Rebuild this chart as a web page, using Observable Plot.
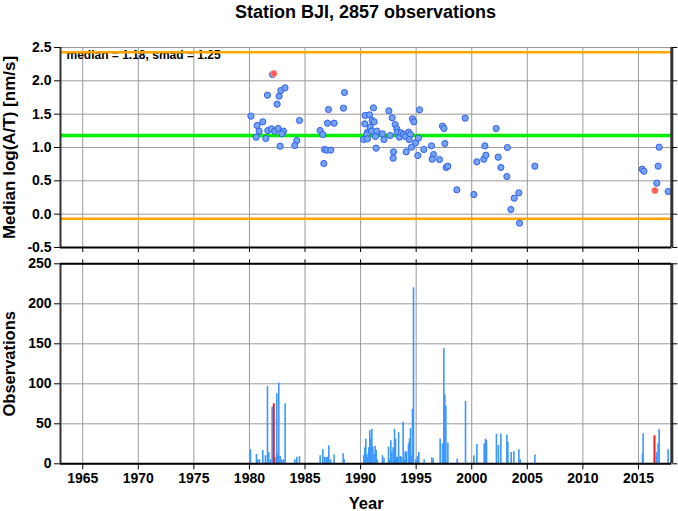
<!DOCTYPE html>
<html>
<head>
<meta charset="utf-8">
<script src="https://cdn.jsdelivr.net/npm/d3@7"></script>
<script src="https://cdn.jsdelivr.net/npm/@observablehq/plot@0.6"></script>
<style>
  html, body { margin: 0; padding: 0; background: white; }
  #wrap { position: relative; width: 678px; height: 511px; overflow: hidden; font-family: "Liberation Sans", Arial, sans-serif; }
  #title { position: absolute; left: 0; top: 0; width: 731px; text-align: center; font-size: 18px; font-weight: bold; line-height: 24px; }
  #p1 { position: absolute; left: 0; top: 37px; }
  #p2 { position: absolute; left: 0; top: 253px; }
</style>
</head>
<body>
<div id="wrap">
  <div id="title">Station BJI, 2857 observations</div>
  <div id="p1"></div>
  <div id="p2"></div>
</div>
<script>
// ---- data ----
const stationTitle = "Station BJI, 2857 observations";
const medianVal = 1.18;
const smadVal = 1.25;
const xDomain = [1963, 2018];
const xTicks = [1965, 1970, 1975, 1980, 1985, 1990, 1995, 2000, 2005, 2010, 2015];
const yTicksTop = [-0.5, 0.0, 0.5, 1.0, 1.5, 2.0, 2.5];
const yTicksBottom = [0, 50, 100, 150, 200, 250];

const ptYear = [1980.13,1980.69,1981.20,1980.87,1980.60,1981.47,1981.65,1981.98,1982.07,1981.62,1982.67,1982.82,1983.20,1982.49,1982.28,1982.58,1983.06,1982.92,1982.76,1984.26,1984.08,1984.50,
  1986.36,1986.60,1987.11,1987.02,1987.62,1988.46,1988.55,1986.75,1986.96,1987.32,1986.69,
  1990.41,1990.80,1991.16,1991.04,1991.22,1990.38,1990.86,1990.62,1990.98,1991.46,1990.56,1991.34,1990.26,1990.62,1991.40,1991.97,1992.10,1992.54,1992.84,1993.11,1993.26,1992.66,1993.30,1993.50,1993.65,1993.86,1994.04,1994.31,1994.49,1994.67,1994.79,1995.30,1994.37,1994.94,1995.20,1994.58,1994.10,1992.96,1992.93,1995.15,1995.69,1996.38,1996.56,1996.44,1997.10,1997.58,1997.37,1997.50,1997.70,1997.85,1998.66,1999.41,
  2000.19,2000.46,2001.09,2001.27,2001.18,2002.20,2002.38,2002.62,2003.21,2003.16,2004.24,2003.82,2003.52,2004.30,2005.68,
  2015.33,2015.49,2016.86,2016.77,2016.65,2017.67];
const ptVal = [1.47,1.33,1.385,1.245,1.155,1.135,1.255,1.28,2.095,1.785,1.77,1.855,1.895,1.65,1.245,1.285,1.245,1.205,1.02,1.105,1.03,1.405,
  1.255,1.195,1.57,1.365,1.365,1.59,1.825,0.97,0.96,0.96,0.76,
  1.48,1.49,1.595,1.405,1.385,1.355,1.305,1.23,1.245,1.245,1.195,1.165,1.12,1.13,0.99,1.205,1.12,1.55,1.445,1.345,1.28,1.18,1.23,1.155,1.22,1.195,1.165,1.23,1.195,1.43,1.385,1.565,1.12,1.07,1.14,1.005,0.935,0.935,0.84,0.88,0.97,1.025,0.895,0.825,0.82,1.06,1.32,1.285,0.70,0.72,0.365,1.44,
  0.295,0.785,0.825,0.885,1.025,1.285,0.855,0.70,1.00,0.565,0.32,0.24,0.07,-0.135,0.72,
  0.675,0.645,1.005,0.72,0.465,0.34];
const redPtYear = [1982.19, 2016.48];
const redPtVal = [2.11, 0.355];

const barYear = [1980.09,1980.63,1980.75,1980.90,1981.20,1981.44,1981.62,1981.74,1981.90,1982.04,1982.30,1982.46,1982.50,1982.64,1982.76,1982.90,1983.06,1983.21,1984.08,1984.26,1984.50,
  1986.36,1986.60,1986.75,1986.90,1987.02,1987.14,1987.30,1987.62,1988.43,1988.52,
  1990.29,1990.38,1990.47,1990.56,1990.65,1990.74,1990.83,1990.92,1991.01,1991.10,1991.22,1991.31,1991.40,1991.50,1991.97,1992.10,1992.51,1992.63,1992.72,1992.81,1992.93,1993.05,1993.14,1993.23,1993.32,1993.42,1993.56,1993.68,1993.83,1993.92,1994.01,1994.13,1994.31,1994.40,1994.49,1994.58,1994.67,1994.76,1994.97,1995.12,1995.24,1995.72,1996.41,1996.53,
  1997.16,1997.37,1997.49,1997.58,1997.67,1997.85,1998.69,1999.44,2000.19,2000.46,2001.12,2001.24,2001.33,2002.22,2002.40,2002.62,2003.16,2003.25,2003.55,2003.79,2004.24,2004.36,2005.68,
  2015.36,2015.42,2016.62,2016.77,2016.86,2017.67];
const barCount = [17.5,11.6,5,5,16.6,10,96.6,14,5,70.8,8,87.5,12,101,9,5,5,75,5,8,9,
  10,17.5,8,8,8,22.5,5,11,12.5,5,
  10,20,30.8,12,8,20,41.7,31,43,21,12,22,17,5,10,7,21,5,28.7,14,20,43,31,8,8,39,9,8,52,5,15,15,25,31,44,10,68,220,5,9,14,5,7.5,6,
  31,25,144,86,72,26,6,78,10,24,25,31,29,37,23,37,36,27,14,15,17.5,5,11,
  12,37.5,14,25,43,17.5];
const redBarYear = [1982.19, 2016.44];
const redBarCount = [75, 35];

// ---- tables ----
const pts = ptYear.map((x, i) => ({x, y: ptVal[i]}));
const redPts = redPtYear.map((x, i) => ({x, y: redPtVal[i]}));
const bars = barYear.map((x, i) => ({x, y: barCount[i]}));
const redBars = redBarYear.map((x, i) => ({x, y: redBarCount[i]}));

document.getElementById("title").textContent = stationTitle;

const W = 678, ML = 60, MR = 6.7;
const fontStyle = {fontFamily: "'Liberation Sans', Arial, sans-serif", fontSize: "14px", fontWeight: "bold", background: "transparent", overflow: "visible"};
const gridStroke = "#9a9a9a";
const fmt1 = d => d.toFixed(1);
const blank = () => "";

// ---- top panel ----
const p1 = Plot.plot({
  width: W, height: 218,
  marginLeft: ML, marginRight: MR, marginTop: 10, marginBottom: 8,
  style: fontStyle,
  x: {domain: xDomain},
  y: {domain: [yTicksTop[0], yTicksTop[yTicksTop.length - 1]]},
  marks: [
    Plot.gridX({ticks: xTicks, stroke: gridStroke, strokeOpacity: 1, strokeWidth: 1}),
    Plot.gridY({ticks: yTicksTop, stroke: gridStroke, strokeOpacity: 1, strokeWidth: 1}),
    Plot.text([`median = ${medianVal.toFixed(2)}, smad = ${smadVal.toFixed(2)}`], {frameAnchor: "top-left", dx: 6, dy: 3, textAnchor: "start", lineAnchor: "top", fontSize: 12, fontWeight: "bold", fill: "black"}),
    Plot.ruleY([medianVal + smadVal, medianVal - smadVal], {stroke: "#ffa500", strokeWidth: 2.5}),
    Plot.ruleY([medianVal], {stroke: "#00ee00", strokeWidth: 3.5}),
    Plot.dot(pts, {x: "x", y: "y", r: 3.1, fill: "#74a3f4", stroke: "#3060f0", strokeWidth: 1}),
    Plot.dot(redPts, {x: "x", y: "y", r: 3.1, fill: "#ff5a55", stroke: "#ff8a80", strokeWidth: 1}),
    Plot.ruleX([xDomain[0]], {stroke: "#333", strokeWidth: 2}),
    Plot.ruleX([xDomain[1]], {stroke: "#333", strokeWidth: 3}),
    Plot.ruleY([yTicksTop[0]], {stroke: "black", strokeWidth: 2}),
    Plot.axisY({anchor: "left", ticks: yTicksTop, tickFormat: fmt1, tickSize: 6, tickPadding: 3, label: null, fontSize: 14, fontWeight: "bold"}),
    Plot.axisY({anchor: "right", ticks: yTicksTop, tickFormat: blank, tickSize: 5, label: null}),
    Plot.axisX({anchor: "bottom", ticks: xTicks, tickFormat: blank, tickSize: 5, label: null}),
    Plot.text(["Median log(A/T) [nm/s]"], {frameAnchor: "left", dx: -51, rotate: -90, textAnchor: "middle", fontSize: 17, fontWeight: "bold", fill: "black"})
  ]
});
document.getElementById("p1").appendChild(p1);

// ---- bottom panel ----
const p2 = Plot.plot({
  width: W, height: 258,
  marginLeft: ML, marginRight: MR, marginTop: 10.3, marginBottom: 47.7,
  style: fontStyle,
  x: {domain: xDomain},
  y: {domain: [yTicksBottom[0], yTicksBottom[yTicksBottom.length - 1]]},
  marks: [
    Plot.gridX({ticks: xTicks, stroke: gridStroke, strokeOpacity: 1, strokeWidth: 1}),
    Plot.gridY({ticks: yTicksBottom, stroke: gridStroke, strokeOpacity: 1, strokeWidth: 1}),
    Plot.ruleX(bars, {x: "x", y1: 0, y2: "y", stroke: "#3b97ff", strokeWidth: 1.6}),
    Plot.ruleX(redBars, {x: "x", y1: 0, y2: "y", stroke: "#ff1a1a", strokeWidth: 2}),
    Plot.ruleX([xDomain[0]], {stroke: "#333", strokeWidth: 2}),
    Plot.ruleX([xDomain[1]], {stroke: "#333", strokeWidth: 3}),
    Plot.ruleY([yTicksBottom[0]], {stroke: "black", strokeWidth: 2}),
    Plot.ruleY([yTicksBottom[yTicksBottom.length - 1]], {stroke: "black", strokeWidth: 2}),
    Plot.axisY({anchor: "left", ticks: yTicksBottom, tickFormat: d => String(d), tickSize: 6, tickPadding: 3, label: null, fontSize: 14, fontWeight: "bold"}),
    Plot.axisY({anchor: "right", ticks: yTicksBottom, tickFormat: blank, tickSize: 5, label: null}),
    Plot.axisX({anchor: "top", ticks: xTicks, tickFormat: blank, tickSize: 5, label: null}),
    Plot.axisX({anchor: "bottom", ticks: xTicks, tickFormat: d => String(d), tickSize: 6, tickPadding: 3, label: null, fontSize: 14, fontWeight: "bold"}),
    Plot.text(["Observations"], {frameAnchor: "left", dx: -51, rotate: -90, textAnchor: "middle", fontSize: 16.5, fontWeight: "bold", fill: "black"}),
    Plot.text(["Year"], {frameAnchor: "bottom", dy: 40, lineAnchor: "middle", fontSize: 16.5, fontWeight: "bold", fill: "black"})
  ]
});
document.getElementById("p2").appendChild(p2);
</script>
</body>
</html>
